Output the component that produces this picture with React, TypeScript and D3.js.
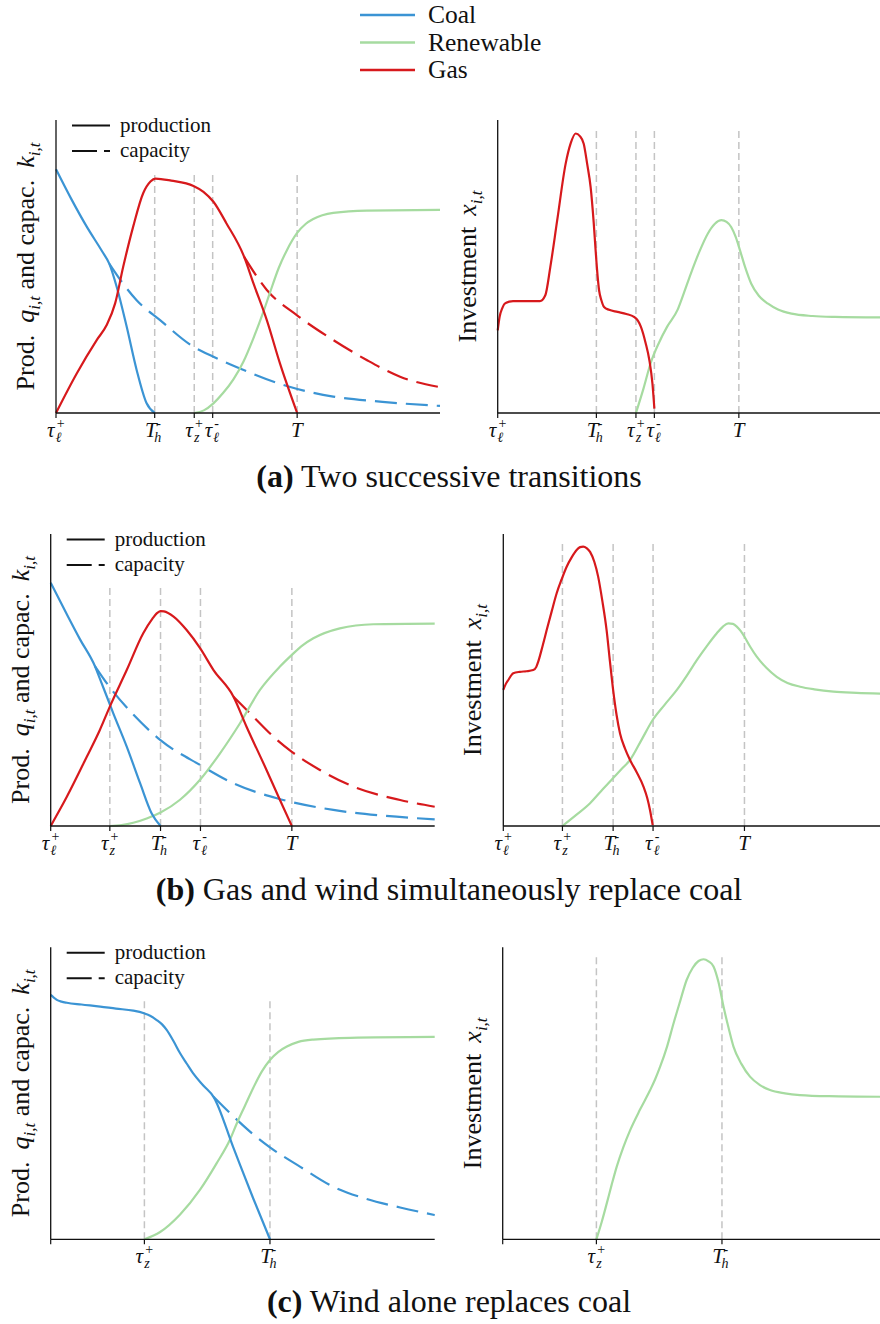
import React from 'react';
import * as d3 from 'd3';

type Pt = [number, number];

const FONT = "'Liberation Serif', 'DejaVu Serif', serif";
const COAL = '#3b94d4';
const RENEW = '#a6dba0';
const GAS = '#d7191c';

const legendNames = ['Coal', 'Renewable', 'Gas'];
const legendColors = [COAL, RENEW, GAS];

// ---------- Panel (a) ----------
const aTicks = [
  { t: 0, base: 'τ', sub: 'ℓ', sup: '+' },
  { t: 25.7, base: 'T', sub: 'h', sup: '-' },
  { t: 36.0, base: 'τ', sub: 'z', sup: '+' },
  { t: 40.8, base: 'τ', sub: 'ℓ', sup: '-' },
  { t: 62.8, base: 'T', sub: '', sup: '' },
];
const aVLines = [25.7, 36.0, 40.8, 62.8];
const aCoalProd: Pt[] = [[0, 83.2], [4, 73.0], [8, 63.6], [12, 55.2], [13.9, 50.9], [15.8, 43.1], [18.4, 29.5], [21.0, 14.7], [23.6, 3.3], [25.7, 0]];
const aCoalCap: Pt[] = [[13.9, 50.9], [17.1, 44.8], [21, 38.5], [27.1, 31.7], [35.8, 22.6], [41.0, 19.2], [47.9, 15.2], [60.1, 9.2], [72.2, 5.6], [85, 3.8], [100, 2.4]];
const aGasProd: Pt[] = [[0, 0], [5.4, 13.5], [10.6, 24.9], [13.2, 30], [15.4, 37.4], [17.5, 49.9], [20.1, 63.6], [22.7, 75.0], [24.6, 79.0], [25.9, 80.0], [30, 79.3], [35.8, 77.5], [38.4, 75.5], [41.0, 72.1], [44.4, 64.7], [49.0, 53.3], [51.4, 44.3], [54.9, 31.7], [58.3, 17.0], [62.8, 0]];
const aGasCap: Pt[] = [[49.0, 53.3], [54.9, 42.0], [62.7, 33.4], [72.2, 24.9], [80.9, 18.1], [89.6, 12.4], [100, 8.8]];
const aRenew: Pt[] = [[36.0, 0], [38.5, 0.9], [41, 3.3], [43.5, 6.8], [46.2, 11.5], [48.8, 17.5], [51.4, 25.5], [54, 34.5], [55.7, 41], [58, 49.5], [60.1, 55.5], [62.7, 61.3], [65, 64.5], [67, 66.2], [72.2, 68.3], [80.9, 69.1], [100, 69.3]];
const aGasInv: Pt[] = [[0, 28.2], [0.5, 32.8], [1.2, 35.8], [1.8, 37.3], [3, 38], [4, 38.2], [8, 38.2], [11, 38.2], [12.4, 40.2], [13.7, 49.8], [15.5, 65.8], [17.7, 85.1], [19.0, 92], [20.3, 95.4], [21.4, 94.5], [22.4, 91.9], [23.3, 85], [24.2, 77.1], [25.0, 65], [25.5, 55.5], [26.0, 47], [26.4, 41.9], [27.0, 38.5], [27.7, 36.2], [29, 35.2], [31.2, 34.5], [33.5, 33.8], [35.5, 32.8], [36.5, 31.5], [37.3, 29.4], [38.5, 24], [39.5, 18.0], [40.3, 10], [40.8, 1.5]];
const aRenewInv: Pt[] = [[36.0, 0], [38, 8.5], [39.8, 16.9], [42, 24], [44.1, 29.4], [46.8, 35.1], [48.5, 41], [50.3, 47.6], [52.5, 55], [54.7, 61.2], [56.5, 64.5], [58.3, 65.8], [59.6, 65.2], [60.8, 63.5], [62, 60], [63.1, 55.5], [64.5, 49.5], [66, 44.2], [68, 40], [70.4, 37.3], [73, 35.3], [76.5, 33.9], [82, 33.1], [87.8, 32.8], [100, 32.6]];

// ---------- Panel (b) ----------
const bTicks = [
  { t: 0, base: 'τ', sub: 'ℓ', sup: '+' },
  { t: 15.4, base: 'τ', sub: 'z', sup: '+' },
  { t: 28.6, base: 'T', sub: 'h', sup: '-' },
  { t: 39.0, base: 'τ', sub: 'ℓ', sup: '-' },
  { t: 62.8, base: 'T', sub: '', sup: '' },
];
const bVLines = [15.4, 28.6, 39.0, 62.8];
const bCoalProd: Pt[] = [[0, 83.3], [4.2, 72.5], [7.6, 64], [11.5, 54.8], [12.8, 50.5], [16.3, 38.6], [19.8, 27.2], [23.3, 14.6], [26.3, 4.3], [28.6, 0]];
const bCoalCap: Pt[] = [[11.5, 54.8], [15.4, 47.5], [21.5, 38.2], [28.5, 29.5], [38.9, 20.9], [47.6, 14.6], [58.9, 9.5], [73.6, 5.5], [86, 3.6], [100, 2.3]];
const bGasProd: Pt[] = [[0, 0], [4.2, 10.0], [9.4, 23.7], [12.8, 32.9], [15.4, 40.9], [19.8, 53.4], [24.1, 66.0], [26.5, 71], [27.6, 72.8], [28.6, 73.6], [29.5, 73.5], [32, 71.7], [35.4, 67.1], [38.9, 60.9], [42.4, 53.4], [47.6, 44.3], [51, 34], [56.2, 19.2], [59.7, 8.9], [62.8, 0]];
const bGasCap: Pt[] = [[47.6, 44.3], [52.8, 37.4], [58, 30.6], [62.8, 25.4], [70.1, 19.2], [78.8, 13.5], [91, 8.9], [100, 6.6]];
const bRenew: Pt[] = [[15.4, 0], [18.5, 0.3], [21.5, 1.1], [25, 2.6], [28.6, 4.6], [33.6, 8.9], [39, 16.0], [44.1, 24.9], [49.3, 35.2], [54.5, 46.6], [59.7, 54.6], [62.8, 58.6], [65.5, 61.8], [68.4, 64.3], [75.3, 67.7], [84, 69.1], [100, 69.3]];
const bGasInv: Pt[] = [[0, 46.6], [0.6, 48.5], [1.3, 50.0], [2.6, 52.3], [4.3, 52.8], [6, 53], [7.8, 53.4], [8.6, 54.5], [9.1, 56.3], [10.2, 61.5], [11.3, 67.1], [12.6, 73.5], [13.9, 79.7], [15.2, 84.5], [16.5, 88.8], [17.8, 92], [19.1, 94.5], [20.0, 95.5], [20.8, 95.7], [21.7, 95.2], [22.6, 93.9], [23.7, 90.5], [24.7, 85.4], [25.8, 77], [26.9, 67.1], [27.8, 56], [28.6, 46.6], [29.5, 38], [30.4, 31.7], [31.7, 26.5], [33.0, 22.6], [34.7, 18.5], [36.5, 13.5], [37.5, 9.5], [38.2, 5.5], [38.9, 0.3]];
const bRenewInv: Pt[] = [[15.4, 0], [19, 3.8], [22.6, 7.8], [25.5, 12], [28.5, 16.3], [30.8, 19.5], [33, 22.6], [36, 29.5], [38.9, 36.3], [42, 41.5], [45.2, 46.6], [47.8, 51.5], [50.4, 56.8], [53, 61.6], [55.6, 66.0], [57.2, 68.3], [58.6, 69.4], [59.8, 69.2], [60.8, 68.3], [61.8, 66.8], [62.8, 64.8], [64.3, 61.4], [66, 58], [68.5, 54.2], [71.2, 51.1], [74, 49], [77.3, 47.7], [81, 46.8], [86, 46.0], [92, 45.6], [100, 45.3]];

// ---------- Panel (c) ----------
const cTicks = [
  { t: 0, base: '', sub: '', sup: '' },
  { t: 24.4, base: 'τ', sub: 'z', sup: '+' },
  { t: 57.1, base: 'T', sub: 'h', sup: '-' },
];
const cVLines = [24.4, 57.1];
const cCoalProd: Pt[] = [[0, 83.7], [0.8, 82.8], [1.6, 82.0], [2.8, 81.4], [4.2, 81.0], [8, 80.4], [12.9, 79.7], [17, 79], [21.5, 78.3], [24.3, 77.4], [26, 76.5], [27.6, 75.1], [29, 73.6], [30.2, 71.7], [32, 67.8], [33.7, 63.7], [35.4, 60.2], [37.1, 56.8], [39.8, 52.6], [42.4, 48.8], [47.6, 31.3], [52.8, 13.8], [57.1, 0]];
const cCoalCap: Pt[] = [[42.4, 48.8], [46.7, 43.2], [51.9, 36.9], [57.1, 31.5], [64.9, 24.9], [73.6, 18.0], [82.3, 13.8], [91, 10.9], [100, 8.3]];
const cRenew: Pt[] = [[24.4, 0], [28.5, 2.5], [33.7, 8.5], [38.9, 17], [43.2, 26], [46.7, 34.2], [48.4, 39.5], [50.5, 45.5], [52.8, 52], [55, 57.5], [57.1, 61.4], [59.3, 64.2], [61.5, 66], [64.5, 67.6], [68.4, 68.4], [78, 69], [100, 69.3]];
const cRenewInv: Pt[] = [[24.4, 0], [25.8, 6], [27.1, 12.3], [28.4, 18.8], [29.7, 24.9], [31.4, 31.5], [33.2, 37.4], [35.8, 44.5], [38.4, 51.1], [39.7, 54.8], [41.0, 59.1], [42.8, 66], [44.5, 74.0], [46.2, 81.5], [47.9, 88.8], [49.5, 93], [51, 95.3], [52.3, 95.9], [53.6, 95.2], [54.9, 93.4], [56.2, 88], [57.5, 79.7], [58.8, 72.5], [60.1, 66.0], [62.2, 60], [64.4, 55.7], [67, 52.8], [69.6, 51.1], [73.5, 50], [77.4, 49.4], [85, 49], [100, 48.8]];

const captions = [
  { tag: '(a)', text: 'Two successive transitions' },
  { tag: '(b)', text: 'Gas and wind simultaneously replace coal' },
  { tag: '(c)', text: 'Wind alone replaces coal' },
];

type Series = { data: Pt[]; color: string; dashed?: boolean };
type Tick = { t: number; base: string; sub: string; sup: string };

function TickLabel({ x, y, tk }: { x: number; y: number; tk: Tick }) {
  if (!tk.base) return null;
  const fs = 21;
  const sfs = 14;
  const bw = tk.base === 'T' ? 0.58 * fs : 0.46 * fs;
  const subW: Record<string, number> = { 'ℓ': 0.45, z: 0.42, h: 0.52, '': 0 };
  const sw = (subW[tk.sub] ?? 0.45) * sfs;
  const pw = tk.sup === '+' ? 0.58 * sfs : tk.sup === '-' ? 0.35 * sfs : 0;
  const w = bw + Math.max(sw, pw);
  const sx = x - w / 2;
  return (
    <g fontFamily={FONT} fill="#111">
      <text x={sx} y={y} fontSize={fs} fontStyle="italic">{tk.base}</text>
      {tk.sup && <text x={sx + bw + (tk.base === 'T' ? -1 : 0)} y={y - 9} fontSize={sfs}>{tk.sup}</text>}
      {tk.sub && <text x={sx + bw - (tk.base === 'T' ? 3 : 1)} y={y + 5} fontSize={sfs} fontStyle="italic">{tk.sub}</text>}
    </g>
  );
}

function Panel(props: {
  x0: number; yBottom: number; yTop: number; series: Series[]; ticks: Tick[];
  vlines: number[]; vTop: number; kind: 'prod' | 'inv'; legend?: boolean;
}) {
  const { x0, yBottom, yTop, series, ticks, vlines, vTop, kind, legend } = props;
  const x = d3.scaleLinear().domain([0, 100]).range([x0, x0 + 384]);
  const y = d3.scaleLinear().domain([0, 100]).range([yBottom, yTop]);
  const line = d3.line<Pt>().x(d => x(d[0])).y(d => y(d[1])).curve(d3.curveMonotoneX);
  const midY = (yTop + yBottom) / 2;
  const lx = x0 - 22;
  return (
    <g>
      {vlines.map((t, i) => (
        <line key={i} x1={x(t)} x2={x(t)} y1={y(0)} y2={y(vTop)} stroke="#c4c4c4" strokeWidth={1.5} strokeDasharray="7 4" />
      ))}
      {series.map((s, i) => (
        <path key={i} d={line(s.data) || ''} fill="none" stroke={s.color} strokeWidth={2.2}
          strokeDasharray={s.dashed ? '22 9' : undefined} strokeLinejoin="round" />
      ))}
      <line x1={x0} x2={x0} y1={yTop} y2={yBottom} stroke="#111" strokeWidth={1.3} />
      <line x1={x0} x2={x(100)} y1={yBottom} y2={yBottom} stroke="#111" strokeWidth={1.3} />
      {ticks.map((tk, i) => (
        <g key={i}>
          <line x1={x(tk.t)} x2={x(tk.t)} y1={yBottom} y2={yBottom + 5} stroke="#111" strokeWidth={1.2} />
          <TickLabel x={x(tk.t)} y={yBottom + 24} tk={tk} />
        </g>
      ))}
      {kind === 'prod' ? (
        <text transform={`translate(${lx},${midY}) rotate(-90)`} textAnchor="middle" fontFamily={FONT} fontSize={26} fill="#111">
          Prod.<tspan dx={12} fontStyle="italic">q</tspan><tspan fontSize={17} dy={6} fontStyle="italic">i,t</tspan>
          <tspan dy={-6}> and capac.</tspan><tspan dx={12} fontStyle="italic">k</tspan><tspan fontSize={17} dy={6} fontStyle="italic">i,t</tspan>
        </text>
      ) : (
        <text transform={`translate(${lx},${midY}) rotate(-90)`} textAnchor="middle" fontFamily={FONT} fontSize={26} fill="#111">
          Investment<tspan dx={11} fontStyle="italic">x</tspan><tspan fontSize={17} dy={6} fontStyle="italic">i,t</tspan>
        </text>
      )}
      {legend && (
        <g fontFamily={FONT} fontSize={21} fill="#111">
          <line x1={x0 + 16} x2={x0 + 54} y1={yTop + 5.5} y2={yTop + 5.5} stroke="#111" strokeWidth={2} />
          <text x={x0 + 64} y={yTop + 12}>production</text>
          <line x1={x0 + 16} x2={x0 + 54} y1={yTop + 31} y2={yTop + 31} stroke="#111" strokeWidth={2} strokeDasharray="25 7" />
          <text x={x0 + 64} y={yTop + 37}>capacity</text>
        </g>
      )}
    </g>
  );
}

export default function App() {
  return (
    <svg width={880} height={1324} style={{ position: 'absolute', left: 0, top: 0, background: '#fff' }}>
      <rect width={880} height={1324} fill="#fff" />
      {legendNames.map((n, i) => (
        <g key={n}>
          <line x1={360} x2={415} y1={15 + i * 27.5} y2={15 + i * 27.5} stroke={legendColors[i]} strokeWidth={2.5} />
          <text x={428} y={23 + i * 27.5} fontFamily={FONT} fontSize={25.5} fill="#111">{n}</text>
        </g>
      ))}

      <Panel x0={56} yBottom={413} yTop={120} kind="prod" legend ticks={aTicks} vlines={aVLines} vTop={82}
        series={[
          { data: aCoalCap, color: COAL, dashed: true },
          { data: aGasCap, color: GAS, dashed: true },
          { data: aRenew, color: RENEW },
          { data: aCoalProd, color: COAL },
          { data: aGasProd, color: GAS },
        ]} />
      <Panel x0={497.7} yBottom={413} yTop={120} kind="inv" ticks={aTicks} vlines={aVLines} vTop={96.6}
        series={[
          { data: aRenewInv, color: RENEW },
          { data: aGasInv, color: GAS },
        ]} />

      <Panel x0={50.7} yBottom={826} yTop={534} kind="prod" legend ticks={bTicks} vlines={bVLines} vTop={82}
        series={[
          { data: bCoalCap, color: COAL, dashed: true },
          { data: bGasCap, color: GAS, dashed: true },
          { data: bRenew, color: RENEW },
          { data: bCoalProd, color: COAL },
          { data: bGasProd, color: GAS },
        ]} />
      <Panel x0={503.3} yBottom={826} yTop={534} kind="inv" ticks={bTicks} vlines={bVLines} vTop={96.8}
        series={[
          { data: bRenewInv, color: RENEW },
          { data: bGasInv, color: GAS },
        ]} />

      <Panel x0={50.7} yBottom={1239.3} yTop={947.3} kind="prod" legend ticks={cTicks} vlines={cVLines} vTop={82}
        series={[
          { data: cCoalCap, color: COAL, dashed: true },
          { data: cRenew, color: RENEW },
          { data: cCoalProd, color: COAL },
        ]} />
      <Panel x0={502.7} yBottom={1239.3} yTop={947.3} kind="inv" ticks={cTicks} vlines={cVLines} vTop={97}
        series={[
          { data: cRenewInv, color: RENEW },
        ]} />

      {captions.map((c, i) => (
        <text key={c.tag} x={449} y={[487, 900, 1312][i]} textAnchor="middle" fontFamily={FONT} fontSize={32} fill="#111">
          <tspan fontWeight="bold">{c.tag}</tspan>{' '}{c.text}
        </text>
      ))}
    </svg>
  );
}
